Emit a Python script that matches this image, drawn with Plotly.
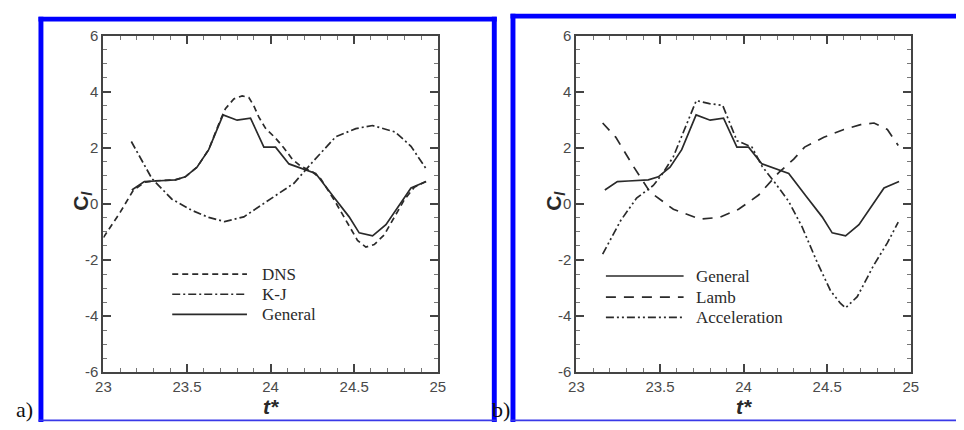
import plotly.graph_objects as go

W, H = 964, 430

# ---------------- data ----------------
# Panel a)
dns_t = [23.00, 23.05, 23.10, 23.15, 23.18, 23.25, 23.31, 23.43, 23.49, 23.56, 23.63, 23.70,
         23.73, 23.78, 23.83, 23.87, 23.90, 23.93, 23.97, 24.03, 24.08, 24.13, 24.18, 24.25,
         24.30, 24.38, 24.45, 24.52, 24.57, 24.62, 24.68, 24.74, 24.80, 24.86, 24.93]
dns_c = [-1.20, -0.75, -0.30, 0.20, 0.50, 0.78, 0.83, 0.86, 0.97, 1.31, 1.94, 3.00,
         3.40, 3.75, 3.86, 3.80, 3.50, 3.10, 2.70, 2.35, 2.00, 1.60, 1.35, 1.15,
         0.90, 0.15, -0.60, -1.30, -1.54, -1.45, -1.10, -0.50, 0.15, 0.60, 0.80]

kj_t = [23.167, 23.29, 23.41, 23.53, 23.63, 23.725, 23.84, 23.98, 24.14, 24.25, 24.39,
        24.51, 24.61, 24.745, 24.84, 24.93]
kj_c = [2.23, 0.91, 0.17, -0.23, -0.48, -0.63, -0.46, 0.11, 0.74, 1.49, 2.40,
        2.69, 2.80, 2.57, 2.06, 1.26]

gen_t = [23.17, 23.245, 23.31, 23.43, 23.49, 23.56, 23.63, 23.716, 23.80, 23.88, 23.96,
         24.03, 24.11, 24.19, 24.27, 24.38, 24.47, 24.53, 24.61, 24.69, 24.76, 24.84, 24.93]
gen_c = [0.50, 0.80, 0.82, 0.86, 0.97, 1.31, 1.94, 3.18, 2.99, 3.06, 2.03,
         2.03, 1.43, 1.26, 1.09, 0.23, -0.46, -1.03, -1.14, -0.74, -0.11, 0.57, 0.80]

# Panel b)
lamb_t = [23.157, 23.236, 23.34, 23.44, 23.58, 23.74, 23.855, 23.97, 24.09, 24.21, 24.30,
          24.365, 24.48, 24.60, 24.70, 24.78, 24.86, 24.925]
lamb_c = [2.89, 2.38, 1.35, 0.43, -0.19, -0.54, -0.48, -0.19, 0.32, 1.12, 1.60,
          2.03, 2.38, 2.66, 2.83, 2.89, 2.66, 2.09]

acc_t = [23.157, 23.265, 23.36, 23.46, 23.52, 23.58, 23.717, 23.796, 23.875, 23.96, 24.05,
         24.11, 24.19, 24.27, 24.35, 24.44, 24.52, 24.58, 24.61, 24.68, 24.78, 24.86, 24.925]
acc_c = [-1.79, -0.59, 0.21, 0.66, 1.12, 1.69, 3.69, 3.58, 3.52, 2.26, 2.03,
         1.35, 0.74, 0.09, -0.82, -2.08, -3.10, -3.55, -3.71, -3.31, -2.17, -1.39, -0.65]

x_ticks = [23, 23.5, 24, 24.5, 25]
x_tick_labels = ["23", "23.5", "24", "24.5", "25"]
y_ticks = [-6, -4, -2, 0, 2, 4, 6]
y_tick_labels = ["-6", "-4", "-2", "0", "2", "4", "6"]

x_title = "<b><i>t*</i></b>"
y_title = "<b>C<sub><i>l</i></sub></b>"

legend_a = ["DNS", "K-J", "General"]
legend_b = ["General", "Lamb", "Acceleration"]

# ---------------- styles ----------------
INK = "#2a2a2a"
LW = 1.7
DASH_DNS = "6px,4px"
DASH_KJ = "8px,3px,2px,3px"
DASH_LAMB = "10px,8px"
DASH_ACC = "8px,3px,2px,3px,2px,3px"

def px(x):
    return x / W

def py(y):
    return 1 - y / H

fig = go.Figure()

def add(t, c, dash, xa, ya, name):
    fig.add_trace(go.Scatter(x=t, y=c, mode="lines", name=name, showlegend=False,
                             line=dict(color=INK, width=LW, dash=dash),
                             xaxis=xa, yaxis=ya))

add(dns_t, dns_c, DASH_DNS, "x", "y", "DNS")
add(kj_t, kj_c, DASH_KJ, "x", "y", "K-J")
add(gen_t, gen_c, "solid", "x", "y", "General")
add(gen_t, gen_c, "solid", "x2", "y2", "General")
add(lamb_t, lamb_c, DASH_LAMB, "x2", "y2", "Lamb")
add(acc_t, acc_c, DASH_ACC, "x2", "y2", "Acceleration")

tickfont = dict(family="Liberation Sans, Arial", size=15, color="#4a4a4a")
titlefont = dict(family="Liberation Sans, Arial", size=21, color="#2a2a2a")

def xaxis(domain, anchor):
    return dict(domain=domain, anchor=anchor, range=[23, 25], tickvals=x_ticks,
                ticktext=x_tick_labels, ticks="inside", ticklen=8, tickwidth=1.5,
                tickcolor="#444", showline=True, linecolor="#444", linewidth=2,
                mirror="ticks", showgrid=False, zeroline=False, tickfont=tickfont,
                minor=dict(dtick=0.1, ticks="inside", ticklen=4, tickcolor="#777",
                           tickwidth=1, showgrid=False),
                title=dict(text=x_title, font=titlefont, standoff=4))

def yaxis(domain, anchor):
    return dict(domain=domain, anchor=anchor, range=[-6, 6], tickvals=y_ticks,
                ticktext=y_tick_labels, ticks="inside", ticklen=8, tickwidth=1.5,
                tickcolor="#444", showline=True, linecolor="#444", linewidth=2,
                mirror="ticks", showgrid=False, zeroline=False, tickfont=tickfont,
                minor=dict(dtick=0.5, ticks="inside", ticklen=4, tickcolor="#777",
                           tickwidth=1, showgrid=False))

ydom = [py(378), py(28)]
fig.update_layout(
    width=W, height=H, autosize=False, margin=dict(l=0, r=0, t=0, b=0, pad=0),
    paper_bgcolor="white", plot_bgcolor="white", showlegend=False,
    xaxis=xaxis([px(97), px(437)], "y"),
    yaxis=yaxis(ydom, "x"),
    xaxis2=xaxis([px(578), px(918)], "y2"),
    yaxis2=yaxis(ydom, "x2"),
)

shapes = []
BLUE = "#0000ff"

def rect(x0, y0, x1, y1, color=BLUE):
    shapes.append(dict(type="rect", xref="paper", yref="paper", x0=px(x0), x1=px(x1),
                       y0=py(y1), y1=py(y0), fillcolor=color, line=dict(width=0),
                       layer="above"))

# panel a frame
rect(31, 8, 36, 430)
rect(31, 8, 497, 13)
rect(492, 8, 497, 430)
rect(31, 427.5, 497, 429.3, "#3a3ae8")
# panel b frame
rect(511, 5, 516, 430)
rect(511, 5, 964, 10)
rect(511, 427.5, 964, 429.3, "#3a3ae8")

annotations = []
# y-axis titles placed tight against the tick labels, as in the reference
for xc in (75, 556):
    annotations.append(dict(xref="paper", yref="paper", x=px(xc), y=py(200), text=y_title,
                            textangle=-90, showarrow=False, xanchor="center",
                            yanchor="middle", font=titlefont))

legfont = dict(family="Liberation Serif, Times New Roman", size=17, color="#2a2a2a")

def legend(items, dashes, x0, x1, xt, ys):
    for name, dash, y in zip(items, dashes, ys):
        shapes.append(dict(type="line", xref="paper", yref="paper", x0=px(x0), x1=px(x1),
                           y0=py(y), y1=py(y), line=dict(color=INK, width=LW, dash=dash)))
        annotations.append(dict(xref="paper", yref="paper", x=px(xt), y=py(y), text=name,
                                showarrow=False, xanchor="left", yanchor="middle",
                                font=legfont))

legend(legend_a, [DASH_DNS, DASH_KJ, "solid"], 167, 243, 256, [276, 297, 318])
legend(legend_b, ["solid", DASH_LAMB, DASH_ACC], 608, 687, 698, [278, 300, 321])

labfont = dict(family="Liberation Serif, Times New Roman", size=22, color="#111111")
annotations.append(dict(xref="paper", yref="paper", x=px(6), y=py(417), text="a)",
                        showarrow=False, xanchor="left", yanchor="middle", font=labfont))
annotations.append(dict(xref="paper", yref="paper", x=px(512), y=py(417), text="b)",
                        showarrow=False, xanchor="right", yanchor="middle", font=labfont))

fig.update_layout(shapes=shapes, annotations=annotations)

post = ("document.documentElement.style.margin='0';document.body.style.margin='0';"
        "document.body.style.padding='0';document.body.style.overflow='hidden';")
fig.write_html("out.html", config={"responsive": False, "displayModeBar": False},
               post_script=post)
